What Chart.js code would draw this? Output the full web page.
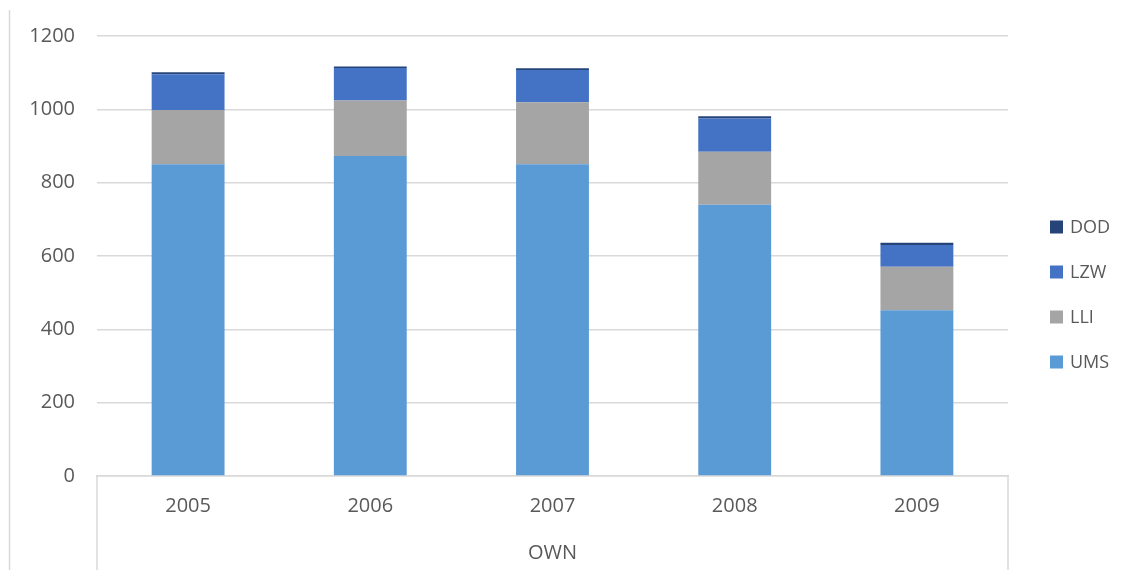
<!DOCTYPE html>
<html>
<head>
<meta charset="utf-8">
<title>OWN</title>
<script src="https://cdn.jsdelivr.net/npm/chart.js@4.4.0/dist/chart.umd.min.js"></script>
<style>
  html, body { margin: 0; padding: 0; background: #fff; }
  #wrap { width: 1127px; height: 570px; }
</style>
</head>
<body>
<div id="wrap"><canvas id="chart"></canvas></div>
<script>
// Yearly totals per source, stacked bottom to top
const years = ['2005', '2006', '2007', '2008', '2009'];
const ums = [850, 873, 850, 740, 452];
const lli = [148, 151, 169, 144, 119];
const lzw = [98, 89, 88, 91, 59];
const dod = [5, 4, 5, 6, 6];

const gridColor = '#d9d9d9';
const textColor = '#595959';
const fontFamily = '"Open Sans", "Noto Sans", sans-serif';

// Category box lines under the axis plus the outer left edge
const framePlugin = {
    id: 'frame',
    beforeDatasetsDraw(chart) {
        const { ctx, chartArea, height } = chart;
        ctx.save();
        ctx.strokeStyle = gridColor;
        ctx.lineWidth = 1.5;
        ctx.beginPath();
        ctx.moveTo(chartArea.left, chartArea.bottom);
        ctx.lineTo(chartArea.left, height);
        ctx.moveTo(chartArea.right, chartArea.bottom);
        ctx.lineTo(chartArea.right, height);
        ctx.moveTo(9.5, 10);
        ctx.lineTo(9.5, height);
        ctx.stroke();
        ctx.restore();
    }
};

// Legend on the right, top series first
const sideLegend = {
    id: 'sideLegend',
    afterDraw(chart) {
        const { ctx } = chart;
        const sets = chart.data.datasets.slice().reverse();
        ctx.save();
        ctx.font = '18px ' + fontFamily;
        ctx.textBaseline = 'middle';
        ctx.textAlign = 'left';
        sets.forEach((ds, i) => {
            const y = 227 + i * 45;
            ctx.fillStyle = ds.backgroundColor;
            ctx.fillRect(1050, y - 6.5, 13, 13);
            ctx.fillStyle = textColor;
            ctx.fillText(ds.label, 1070, y + 1);
        });
        ctx.restore();
    }
};

new Chart(document.getElementById('chart'), {
    type: 'bar',
    data: {
        labels: years,
        datasets: [
            { label: 'UMS', data: ums, backgroundColor: '#5b9bd5' },
            { label: 'LLI', data: lli, backgroundColor: '#a5a5a5' },
            { label: 'LZW', data: lzw, backgroundColor: '#4472c4' },
            { label: 'DOD', data: dod, backgroundColor: '#264478' }
        ]
    },
    options: {
        responsive: true,
        maintainAspectRatio: false,
        animation: false,
        devicePixelRatio: 1,
        layout: { padding: { top: 36, right: 119, bottom: 0, left: 0 } },
        datasets: {
            bar: { categoryPercentage: 1, barPercentage: 0.4 }
        },
        plugins: {
            legend: { display: false },
            tooltip: { enabled: false }
        },
        scales: {
            x: {
                stacked: true,
                grid: { display: false },
                border: { display: true, color: gridColor, width: 1.5 },
                ticks: {
                    color: textColor,
                    padding: 10,
                    font: { family: fontFamily, size: 20 }
                },
                title: {
                    display: true,
                    text: 'OWN',
                    color: textColor,
                    padding: { top: 0, bottom: 5 },
                    font: { family: fontFamily, size: 20 }
                },
                afterFit(scale) { scale.height = 94; }
            },
            y: {
                stacked: true,
                min: 0,
                max: 1200,
                border: { display: false },
                grid: { color: gridColor, lineWidth: 1.5, drawTicks: false },
                ticks: {
                    stepSize: 200,
                    color: textColor,
                    padding: 22,
                    font: { family: fontFamily, size: 20 },
                    callback: value => String(value)
                },
                afterFit(scale) { scale.width = 97; }
            }
        }
    },
    plugins: [framePlugin, sideLegend]
});
</script>
</body>
</html>
